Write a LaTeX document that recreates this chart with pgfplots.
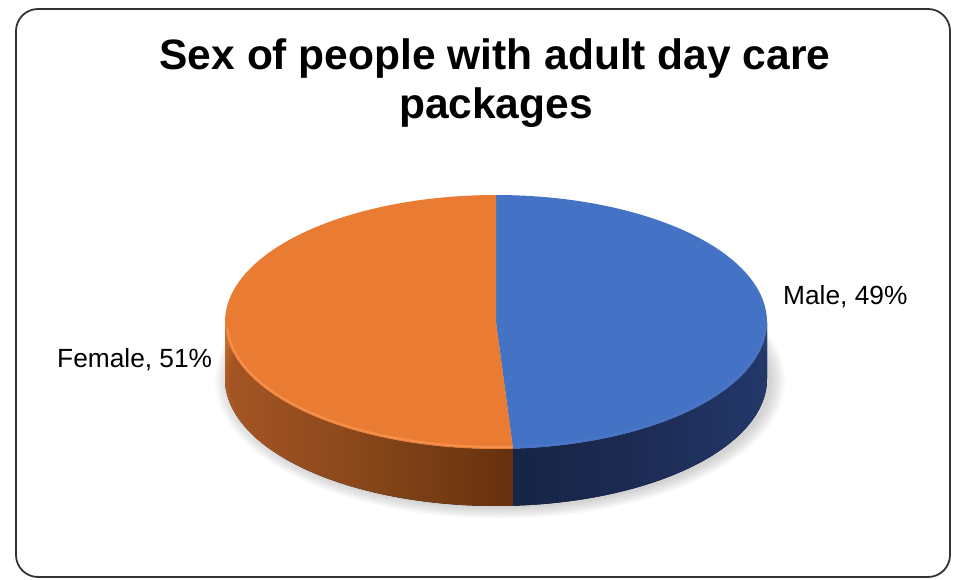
\documentclass[border=0pt]{standalone}
\usepackage{pgfplots}
\pgfplotsset{compat=1.18}
\usepgfplotslibrary{fillbetween}
\usepackage{fontspec}
\setmainfont{Liberation Sans}
\definecolor{mblue}{HTML}{4472C4}
\definecolor{borange}{HTML}{E97B33}
\def\valMale{49}
\def\valFemale{51}
\def\cx{496}
\def\cy{322}
\def\rx{271}
\def\ry{127}
\def\dep{57}
\pgfmathsetmacro\tEnd{90-3.6*\valMale}
\pgfmathsetmacro\tEndB{\tEnd+360}
\begin{document}
\begin{tikzpicture}
\begin{axis}[scale only axis, width=959pt, height=579pt,
  xmin=0, xmax=959, ymin=0, ymax=579, y dir=reverse,
  axis lines=none, clip=false, samples=120]
\path (axis cs:0,0) rectangle (axis cs:959,579);
% frame
\draw[rounded corners=22pt, line width=1.8pt, color=black!80] (axis cs:16,9) rectangle (axis cs:950,577);
% soft shadow
\pgfplotsinvokeforeach{0,...,7}{
  \fill[black, opacity=0.022] (axis cs:500,381) ellipse [x radius={271+2*#1}, y radius={127+1.5*#1}];
}
% side paths
\addplot[draw=none, name path=oa, domain=180:\tEndB] ({\cx+\rx*cos(x)}, {\cy-\ry*sin(x)});
\addplot[draw=none, name path=ob, domain=180:\tEndB] ({\cx+\rx*cos(x)}, {\cy+\dep-\ry*sin(x)});
\addplot[left color={rgb,255:red,205;green,110;blue,45}, right color={rgb,255:red,128;green,64;blue,22}, draw=none] fill between[of=oa and ob];
\addplot[draw=none, name path=ba, domain=\tEnd:0] ({\cx+\rx*cos(x)}, {\cy-\ry*sin(x)});
\addplot[draw=none, name path=bb, domain=\tEnd:0] ({\cx+\rx*cos(x)}, {\cy+\dep-\ry*sin(x)});
\addplot[left color={rgb,255:red,30;green,47;blue,86}, right color={rgb,255:red,44;green,72;blue,130}, draw=none] fill between[of=ba and bb];
% top faces
\addplot[fill=mblue, draw=none, domain=\tEnd:90] ({\cx+\rx*cos(x)}, {\cy-\ry*sin(x)}) -- (axis cs:\cx,\cy) -- cycle;
\addplot[fill=borange, draw=none, domain=90:\tEndB] ({\cx+\rx*cos(x)}, {\cy-\ry*sin(x)}) -- (axis cs:\cx,\cy) -- cycle;
% rim highlight
\addplot[draw={rgb,255:red,248;green,150;blue,80}, line width=2pt, opacity=0.8, domain=183:\tEndB] ({\cx+(\rx-2)*cos(x)}, {\cy-(\ry-2)*sin(x)});
\addplot[draw={rgb,255:red,80;green,120;blue,200}, line width=2pt, opacity=0.6, domain=\tEnd:-3] ({\cx+(\rx-2)*cos(x)}, {\cy-(\ry-2)*sin(x)});
% title and labels
\node[anchor=base, font=\bfseries\fontsize{42.5}{49}\selectfont, inner sep=0pt] at (axis cs:495,70) {Sex of people with adult day care};
\node[anchor=base, font=\bfseries\fontsize{42.5}{49}\selectfont, inner sep=0pt] at (axis cs:496,119) {packages};
\node[anchor=base west, font=\fontsize{26.3}{30}\selectfont, inner sep=0pt] at (axis cs:783,305) {Male, \valMale\%};
\node[anchor=base west, font=\fontsize{26.3}{30}\selectfont, inner sep=0pt] at (axis cs:57,368) {Female, \valFemale\%};
\end{axis}
\end{tikzpicture}
\end{document}
